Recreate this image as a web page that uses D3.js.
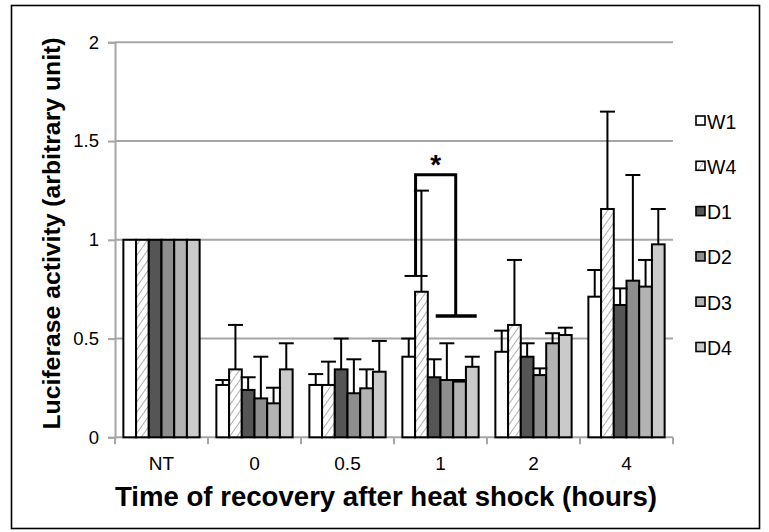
<!DOCTYPE html>
<html>
<head>
<meta charset="utf-8">
<script src="https://cdn.jsdelivr.net/npm/d3@7"></script>
<style>
  html, body { margin: 0; padding: 0; background: #fff; }
  svg { display: block; font-family: "Liberation Sans", Arial, Helvetica, sans-serif; }
</style>
</head>
<body>
<svg id="chart" width="769" height="532"></svg>
<script>
// Recovery time points (x categories)
const categories = ["NT", "0", "0.5", "1", "2", "4"];
// Cell lines / constructs
const seriesNames = ["W1", "W4", "D1", "D2", "D3", "D4"];
// Mean luciferase activity per series, one value per category
const W1 = [1, 0.265, 0.265, 0.408, 0.433, 0.712];
const W4 = [1, 0.344, 0.265, 0.737, 0.569, 1.156];
const D1 = [1, 0.240, 0.344, 0.304, 0.408, 0.670];
const D2 = [1, 0.197, 0.223, 0.290, 0.315, 0.793];
const D3 = [1, 0.172, 0.248, 0.282, 0.476, 0.763];
const D4 = [1, 0.344, 0.332, 0.357, 0.518, 0.977];
// Upper end of each error bar (mean + SD); NT has none
const W1err = [null, 0.290, 0.320, 0.500, 0.540, 0.847];
const W4err = [null, 0.569, 0.383, 1.249, 0.898, 1.649];
const D1err = [null, 0.304, 0.500, 0.395, 0.476, 0.754];
const D2err = [null, 0.408, 0.395, 0.476, 0.349, 1.328];
const D3err = [null, 0.251, 0.344, 0.290, 0.527, 0.898];
const D4err = [null, 0.476, 0.488, 0.408, 0.555, 1.156];
const yTicks = [0, 0.5, 1, 1.5, 2];
// Significance bracket at 1 h (W4 vs. the others)
const sigCategory = "1";
const sigTop = 1.33, sigLeftEnd = 0.817, sigRightEnd = 0.614;

const values = [W1, W4, D1, D2, D3, D4];
const errs = [W1err, W4err, D1err, D2err, D3err, D4err];
const fills = ["#ffffff", "url(#hatch)", "#555555", "#8e8e8e", "#b3b3b3", "#cacaca"];

const svg = d3.select("#chart");

// hatch pattern for W4
const defs = svg.append("defs");
const pat = defs.append("pattern").attr("id", "hatch")
  .attr("patternUnits", "userSpaceOnUse").attr("width", 6).attr("height", 6)
  .attr("patternTransform", "rotate(35)");
pat.append("rect").attr("width", 6).attr("height", 6).attr("fill", "#fff");
pat.append("line").attr("x1", 0).attr("y1", 0).attr("x2", 0).attr("y2", 6)
  .attr("stroke", "#9a9a9a").attr("stroke-width", 1.6);

// outer frame
svg.append("rect").attr("x", 11.5).attr("y", 5.5).attr("width", 748).attr("height", 523)
  .attr("fill", "none").attr("stroke", "#000").attr("stroke-width", 1.6);

const x0 = 115, x1 = 673, yB = 437.3, yT = 42.3;
const x = d3.scaleBand().domain(categories).range([x0, x1]).paddingInner(0.18).paddingOuter(0.09);
const xs = d3.scaleBand().domain(seriesNames).range([0, x.bandwidth()]);
const y = d3.scaleLinear().domain([0, 2]).range([yB, yT]);

// gridlines
svg.append("g").selectAll("line").data(yTicks.filter(d => d > 0)).join("line")
  .attr("x1", x0).attr("x2", x1).attr("y1", d => y(d)).attr("y2", d => y(d))
  .attr("stroke", "#a6a6a6").attr("stroke-width", 2);

// y axis
const yAxis = svg.append("g").attr("transform", `translate(${x0},0)`)
  .call(d3.axisLeft(y).tickValues(yTicks).tickFormat(d3.format("")).tickSize(7).tickPadding(9));
yAxis.select(".domain").attr("stroke", "#a6a6a6").attr("stroke-width", 2);
yAxis.selectAll(".tick line").attr("stroke", "#a6a6a6").attr("stroke-width", 2);
yAxis.selectAll(".tick text").attr("font-size", 18.5).attr("fill", "#000")
  .attr("font-family", "Liberation Sans, Arial, sans-serif");

// x axis (ticks between categories)
const xAxisG = svg.append("g").attr("transform", `translate(0,${yB})`);
xAxisG.append("line").attr("x1", x0).attr("x2", x1).attr("y1", 0).attr("y2", 0)
  .attr("stroke", "#a6a6a6").attr("stroke-width", 2);
const step = (x1 - x0) / categories.length;
xAxisG.selectAll("line.tk").data(d3.range(categories.length + 1)).join("line")
  .attr("class", "tk").attr("x1", i => x0 + i * step).attr("x2", i => x0 + i * step)
  .attr("y1", 0).attr("y2", 7).attr("stroke", "#a6a6a6").attr("stroke-width", 2);
xAxisG.selectAll("text").data(categories).join("text")
  .attr("x", d => x(d) + x.bandwidth() / 2).attr("y", 33)
  .attr("text-anchor", "middle").attr("font-size", 19).text(d => d);

// bars
const barData = [];
categories.forEach((c, ci) => seriesNames.forEach((s, si) => {
  barData.push({ c, s, si, v: values[si][ci], e: errs[si][ci] });
}));

const gBars = svg.append("g");
const gErr = svg.append("g");
gErr.selectAll("line.stem").data(barData.filter(d => d.e != null)).join("line")
  .attr("class", "stem")
  .attr("x1", d => x(d.c) + xs(d.s) + xs.bandwidth() / 2)
  .attr("x2", d => x(d.c) + xs(d.s) + xs.bandwidth() / 2)
  .attr("y1", d => y(d.v)).attr("y2", d => y(d.e))
  .attr("stroke", "#000").attr("stroke-width", 2);
gErr.selectAll("line.cap").data(barData.filter(d => d.e != null)).join("line")
  .attr("class", "cap")
  .attr("x1", d => x(d.c) + xs(d.s) + xs.bandwidth() / 2 - 7.5)
  .attr("x2", d => x(d.c) + xs(d.s) + xs.bandwidth() / 2 + 7.5)
  .attr("y1", d => y(d.e)).attr("y2", d => y(d.e))
  .attr("stroke", "#000").attr("stroke-width", 2);

gBars.selectAll("rect").data(barData).join("rect")
  .attr("x", d => x(d.c) + xs(d.s)).attr("width", xs.bandwidth())
  .attr("y", d => y(d.v)).attr("height", d => y(0) - y(d.v))
  .attr("fill", d => fills[d.si]).attr("stroke", "#000").attr("stroke-width", 2);
gErr.raise();

// significance bracket
const bx = x(sigCategory);
const lx = bx + xs("W4") + 0.5;
const rx = bx + xs("D3") + 2.5;
const br = svg.append("g").attr("stroke", "#000").attr("stroke-width", 3).attr("fill", "none");
br.append("path").attr("d",
  `M${lx},${y(sigLeftEnd)} V${y(sigTop)} H${rx} V${y(sigRightEnd)}`);
br.append("line").attr("x1", lx - 11).attr("x2", lx + 12)
  .attr("y1", y(sigLeftEnd)).attr("y2", y(sigLeftEnd)).attr("stroke-width", 2);
br.append("line").attr("x1", rx - 20).attr("x2", rx + 21)
  .attr("y1", y(sigRightEnd)).attr("y2", y(sigRightEnd)).attr("stroke-width", 3.5);
svg.append("text").attr("x", (lx + rx) / 2).attr("y", y(sigTop) - 1)
  .attr("text-anchor", "middle").attr("font-size", 28).attr("font-weight", "bold").text("*");

// legend
const lg = svg.append("g").attr("transform", "translate(696,116)");
const li = lg.selectAll("g").data(seriesNames).join("g")
  .attr("transform", (d, i) => `translate(0,${i * 45.3})`);
li.append("rect").attr("x", 0).attr("y", 0).attr("width", 9).attr("height", 9)
  .attr("fill", (d, i) => fills[i]).attr("stroke", "#000").attr("stroke-width", 1.6);
li.append("text").attr("x", 11).attr("y", 12.5).attr("font-size", 19.5).text(d => d);

// axis titles
svg.append("text").attr("transform", `translate(60,233.5) rotate(-90)`)
  .attr("text-anchor", "middle").attr("font-size", 24.5).attr("font-weight", "bold")
  .attr("textLength", 392).attr("lengthAdjust", "spacingAndGlyphs")
  .text("Luciferase activity (arbitrary unit)");
svg.append("text").attr("x", 386).attr("y", 506)
  .attr("text-anchor", "middle").attr("font-size", 28).attr("font-weight", "bold")
  .attr("textLength", 542).attr("lengthAdjust", "spacingAndGlyphs")
  .text("Time of recovery after heat shock (hours)");
</script>
</body>
</html>
